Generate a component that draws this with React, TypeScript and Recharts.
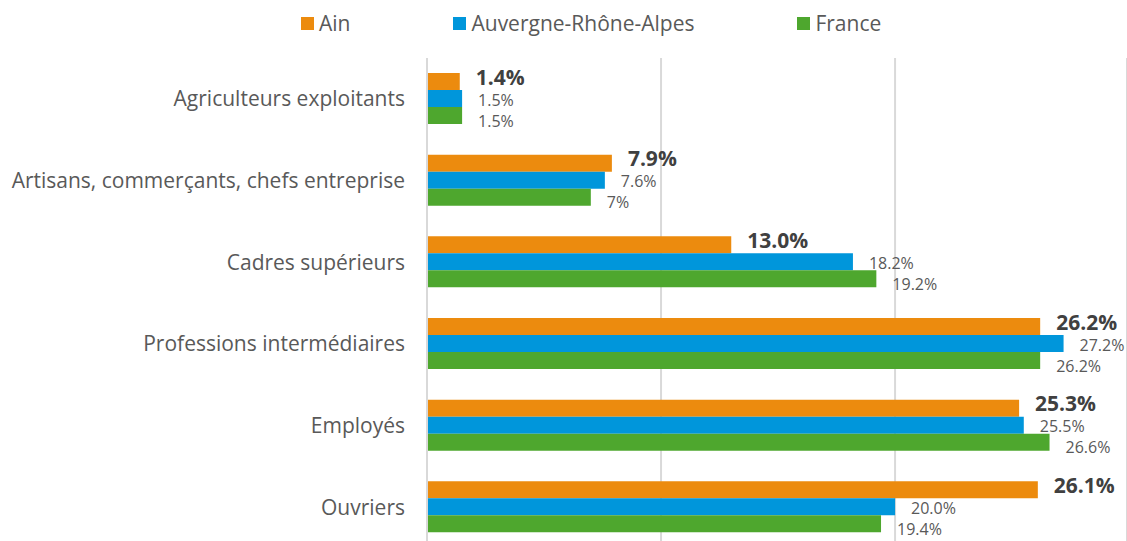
import React from "react";
import { BarChart, Bar, XAxis, YAxis, CartesianGrid, Legend, LabelList } from "recharts";

const categories = [
  "Agriculteurs exploitants",
  "Artisans, commerçants, chefs entreprise",
  "Cadres supérieurs",
  "Professions intermédiaires",
  "Employés",
  "Ouvriers",
];
const ain = [1.4, 7.9, 13.0, 26.2, 25.3, 26.1];
const ara = [1.5, 7.6, 18.2, 27.2, 25.5, 20.0];
const france = [1.5, 7, 19.2, 26.2, 26.6, 19.4];
const xTicks = [0, 10, 20];

const ORANGE = "#EC8B0E";
const BLUE = "#0096DB";
const GREEN = "#4EA72E";
const FONT = "'Open Sans', 'Noto Sans', sans-serif";

const data = categories.map((name, i) => ({ name, ain: ain[i], ara: ara[i], france: france[i] }));

const series = [
  { key: "ain", label: "Ain", color: ORANGE },
  { key: "ara", label: "Auvergne-Rhône-Alpes", color: BLUE },
  { key: "france", label: "France", color: GREEN },
];

const makeLabel = (bold: boolean, dy: number, fmt: (v: number) => string) => (props: any) => {
  const { x, y, width, height, value } = props;
  return (
    <text
      x={Number(x) + Number(width) + 16}
      y={Number(y) + Number(height) / 2 + dy}
      dominantBaseline="central"
      fontFamily={FONT}
      fontSize={bold ? 21 : 16}
      fontWeight={bold ? 700 : 400}
      fill={bold ? "#404040" : "#595959"}
    >
      {fmt(Number(value))}
    </text>
  );
};

// zero-height wrapper so the legend doesn't push the plot down
const LegendContent = () => (
  <div style={{ height: 0, overflow: "visible" }}>
    <div style={{ display: "flex", gap: 103, fontFamily: FONT, fontSize: 21, color: "#595959", lineHeight: "26px" }}>
      {series.map((s) => (
        <div key={s.key} style={{ display: "flex", alignItems: "center" }}>
          <span style={{ width: 13, height: 13, background: s.color, marginRight: 5, display: "inline-block" }} />
          <span>{s.label}</span>
        </div>
      ))}
    </div>
  </div>
);

export default function App() {
  return (
    <div style={{ position: "absolute", left: 0, top: 0, width: 1127, height: 541, overflow: "hidden", background: "#fff" }}>
      <BarChart
        width={1127}
        height={560}
        data={data}
        layout="vertical"
        margin={{ top: 58, right: 0, bottom: 12, left: 0 }}
        barSize={17}
        barGap={0}
      >
        <CartesianGrid horizontal={false} stroke="#d9d9d9" strokeWidth={2} />
        <XAxis type="number" domain={[0, 29.91]} ticks={xTicks} hide />
        <YAxis
          type="category"
          dataKey="name"
          width={427}
          tickLine={false}
          tickSize={0}
          tickMargin={22}
          axisLine={{ stroke: "#d9d9d9", strokeWidth: 2 }}
          tick={{ fontFamily: FONT, fontSize: 21, fill: "#595959" }}
          interval={0}
        />
        <Legend
          verticalAlign="top"
          content={<LegendContent />}
          wrapperStyle={{ top: 10, left: 301, width: "auto" }}
        />
        <Bar dataKey="ain" name="Ain" fill={ORANGE} isAnimationActive={false}>
          <LabelList dataKey="ain" content={makeLabel(true, -5, (v) => v.toFixed(1) + "%")} />
        </Bar>
        <Bar dataKey="ara" name="Auvergne-Rhône-Alpes" fill={BLUE} isAnimationActive={false}>
          <LabelList dataKey="ara" content={makeLabel(false, 1, (v) => v.toFixed(1) + "%")} />
        </Bar>
        <Bar dataKey="france" name="France" fill={GREEN} isAnimationActive={false}>
          <LabelList dataKey="france" content={makeLabel(false, 5, (v) => String(v) + "%")} />
        </Bar>
      </BarChart>
    </div>
  );
}
